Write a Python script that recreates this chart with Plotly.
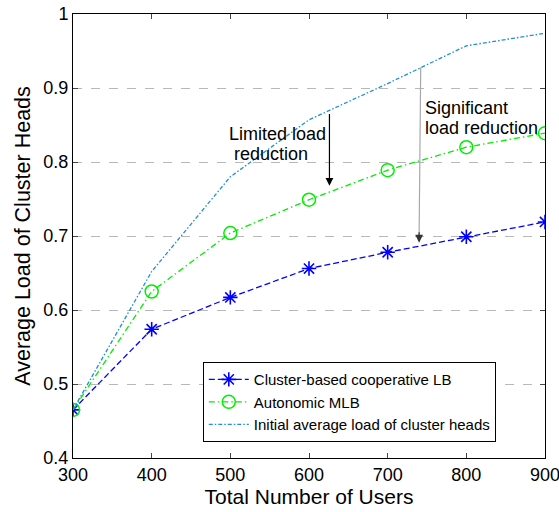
import plotly.graph_objects as go

users = [300, 400, 500, 600, 700, 800, 900]
coop_lb = [0.465, 0.574, 0.617, 0.656, 0.678, 0.699, 0.719]
auto_mlb = [0.465, 0.625, 0.704, 0.749, 0.789, 0.820, 0.839]
initial_load = [0.465, 0.652, 0.780, 0.857, 0.906, 0.957, 0.974]

names = ["Cluster-based cooperative LB", "Autonomic MLB", "Initial average load of cluster heads"]
x_ticks = [300, 400, 500, 600, 700, 800, 900]
y_ticks = [0.4, 0.5, 0.6, 0.7, 0.8, 0.9, 1.0]
y_tick_text = ["0.4", "0.5", "0.6", "0.7", "0.8", "0.9", "1"]

FONT = "Liberation Sans, Arial, Helvetica, sans-serif"

fig = go.Figure()
fig.add_trace(go.Scatter(
    x=users, y=coop_lb, name=names[0], mode="lines+markers",
    line=dict(color="#0000ff", width=1.3, dash="6px,3px"),
    marker=dict(symbol="asterisk-open", size=12, color="#0000ff",
                line=dict(color="#0000ff", width=1.6)),
))
fig.add_trace(go.Scatter(
    x=users, y=auto_mlb, name=names[1], mode="lines+markers",
    line=dict(color="#00ee00", width=1.3, dash="6px,3px,1.5px,3px"),
    marker=dict(symbol="circle-open", size=13, color="#00ee00",
                line=dict(color="#00ee00", width=1.5)),
))
fig.add_trace(go.Scatter(
    x=users, y=initial_load, name=names[2], mode="lines",
    line=dict(color="#1f8fd6", width=1.3, dash="4px,2px,1.5px,2px"),
))

# arrows (data coordinates)
arrow1_x, arrow1_y0, arrow1_y1 = 626, 0.867, 0.768
arrow2_x0, arrow2_y0, arrow2_x1, arrow2_y1 = 742, 0.928, 740, 0.691

fig.add_annotation(x=arrow1_x, y=arrow1_y1, ax=arrow1_x, ay=arrow1_y0,
                   xref="x", yref="y", axref="x", ayref="y", text="",
                   showarrow=True, arrowhead=2, arrowsize=1.3, arrowwidth=1.2,
                   arrowcolor="black")
fig.add_shape(type="line", x0=arrow2_x0, y0=arrow2_y0, x1=arrow2_x1, y1=arrow2_y1 + 0.01,
              xref="x", yref="y", line=dict(color="#a8a8a8", width=1.2))
fig.add_annotation(x=arrow2_x1, y=arrow2_y1, ax=0, ay=-12,
                   xref="x", yref="y", text="",
                   showarrow=True, arrowhead=2, arrowsize=1.3, arrowwidth=1.2,
                   arrowcolor="#333333")

# text labels, one annotation per line
label_lines = [
    ("Limited load", 496, 0.838),
    ("&nbsp;reduction", 496, 0.811),
    ("Significant", 745.5, 0.8736),
    ("load reduction", 745.5, 0.8466),
]
for txt, lx, ly in label_lines:
    fig.add_annotation(x=lx, y=ly, xref="x", yref="y", xanchor="left", yanchor="middle",
                       text=txt, showarrow=False,
                       font=dict(family=FONT, size=18, color="black"), align="left")

fig.update_layout(
    width=559, height=512,
    margin=dict(l=73, r=14, t=14, b=54, autoexpand=False),
    paper_bgcolor="white", plot_bgcolor="white",
    font=dict(family=FONT, size=18, color="black"),
    showlegend=True,
    legend=dict(x=0.275, y=0.216, xanchor="left", yanchor="top",
                bgcolor="white", bordercolor="black", borderwidth=1,
                font=dict(family=FONT, size=15, color="black"),
                itemwidth=40, tracegroupgap=0),
)
fig.update_xaxes(
    range=[300, 900], tickvals=x_ticks, ticks="inside", ticklen=5,
    showline=True, linecolor="black", linewidth=1, mirror="allticks",
    showgrid=False, zeroline=False, automargin=False, ticklabeloverflow="allow",
    title=dict(text="Total Number of Users", font=dict(size=21), standoff=2),
    tickfont=dict(size=18),
)
fig.update_yaxes(
    range=[0.4, 1.0], tickvals=y_ticks, ticktext=y_tick_text, ticks="inside", ticklen=5,
    showline=True, linecolor="black", linewidth=1, mirror="allticks",
    showgrid=True, gridcolor="#b8b8b8", griddash="dash", gridwidth=1, zeroline=False,
    automargin=False, ticklabeloverflow="allow",
    title=dict(text="Average Load of Cluster Heads", font=dict(size=21.5), standoff=6),
    tickfont=dict(size=18),
)

fig.write_html("out.html", config={"displayModeBar": False},
               post_script="document.body.style.margin='0px';")
